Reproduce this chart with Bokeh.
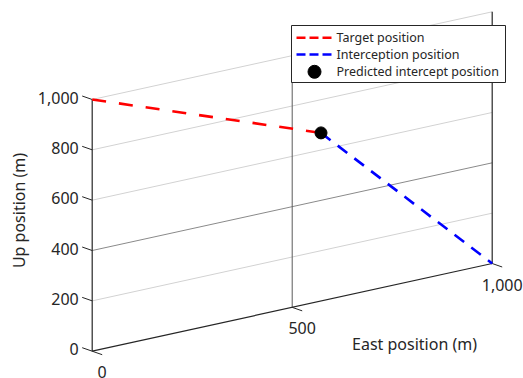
import math
from bokeh.plotting import figure
from bokeh.models import Range1d
from bokeh.core.properties import value
from bokeh.embed import file_html
from bokeh.resources import INLINE

# ---- data ----
east_ticks = [0, 500, 1000]
east_labels = ["0", "500", "1,000"]
up_ticks = [0, 200, 400, 600, 800, 1000]
up_labels = ["0", "200", "400", "600", "800", "1,000"]

target_east = [0, 572]
target_up = [1000, 668]
interceptor_east = [572, 1000]
interceptor_up = [668, 0]
predicted_east = [572]
predicted_up = [668]

legend_labels = ["Target position", "Interception position", "Predicted intercept position"]

# ---- oblique projection (fixed camera) ----
W, H = 523, 378
MARGIN = 0
X0, Y0 = 91.7, 350.7        # screen position of origin
PX_E = 0.4                  # px per metre east (horizontal)
PX_U = 0.2517               # px per metre up
DROP_E = 0.0877             # screen rise per metre east
K = DROP_E / PX_U

def proj(e, u):
    return [ei for ei in e], [ui + K * ei for ei, ui in zip(e, u)]

def sx2d(sx):
    return (sx - X0) / PX_E

def sy2d(sy):
    return (Y0 - sy) / PX_U

x_start, x_end = sx2d(MARGIN), sx2d(MARGIN + W)
y_start, y_end = sy2d(MARGIN + H), sy2d(MARGIN)

p = figure(width=W, height=H, x_range=Range1d(x_start, x_end), y_range=Range1d(y_start, y_end),
           output_backend="svg", toolbar_location=None, min_border=0,
           x_axis_type=None, y_axis_type=None)
p.outline_line_color = None
p.background_fill_color = "white"
p.border_fill_color = "white"

AX = "#262626"
FONT = value("Noto Sans")

# grid lines (up levels)
for u in up_ticks[1:]:
    gx, gy = proj([0, 1000], [u, u])
    col = "#8a8a8a" if u == 400 else "#d2d2d2"
    p.line(gx, gy, line_color=col, line_width=1)

# vertical grid at east 500
gx, gy = proj([500, 500], [0, 1000])
p.line(gx, gy, line_color="#5a5a5a", line_width=1)

# axis lines
for e0, u0, e1, u1 in [(0, 0, 0, 1000), (0, 0, 1000, 0), (1000, 0, 1000, 1000)]:
    ax_, ay_ = proj([e0, e1], [u0, u1])
    p.line(ax_, ay_, line_color=AX, line_width=1.2)

# ticks (pixel offsets converted to data units)
TDX, TDY = 10.0, 3.5
ux, uy = proj([0] * len(up_ticks), up_ticks)
p.segment(x0=ux, y0=uy, x1=[x - TDX / PX_E for x in ux], y1=[y + TDY / PX_U for y in uy],
          line_color=AX, line_width=1)
ex, ey = proj(east_ticks, [0] * len(east_ticks))
p.segment(x0=ex, y0=ey, x1=[x + TDX / PX_E for x in ex], y1=[y - TDY / PX_U for y in ey],
          line_color=AX, line_width=1)

# tick labels
p.text(x=ux, y=uy, text=up_labels, x_offset=-13.5, y_offset=-2, text_align="right",
       text_baseline="middle", text_font=FONT, text_font_size="16px", text_color=AX)
p.text(x=ex, y=ey, text=east_labels, x_offset=10, y_offset=21, text_align="center",
       text_baseline="middle", text_font=FONT, text_font_size="16px", text_color=AX)

# axis titles
p.text(x=[sx2d(414)], y=[sy2d(343)], text=["East position (m)"], text_align="center",
       text_baseline="middle", text_font=FONT, text_font_size="16px", text_color=AX)
p.text(x=[sx2d(18)], y=[sy2d(210)], text=["Up position (m)"], angle=math.pi / 2,
       text_align="center", text_baseline="middle", text_font=FONT,
       text_font_size="16px", text_color=AX)

# data series
tx, ty = proj(target_east, target_up)
p.line(tx, ty, line_color="red", line_width=2.6, line_dash="14 13")
ix, iy = proj(interceptor_east, interceptor_up)
p.line(ix, iy, line_color="blue", line_width=2.6, line_dash="12 9")
px_, py_ = proj(predicted_east, predicted_up)
p.scatter(px_, py_, size=12, marker="circle", fill_color="black", line_color="black")

# legend (drawn in screen layout)
p.quad(left=[sx2d(291)], right=[sx2d(505)], top=[sy2d(25)], bottom=[sy2d(82)],
       fill_color="white", line_color=AX, line_width=1)
rows = [37.3, 54.0, 71.3]
p.line([sx2d(296), sx2d(332)], [sy2d(rows[0])] * 2, line_color="red", line_width=2.6, line_dash="9 4")
p.line([sx2d(296), sx2d(332)], [sy2d(rows[1])] * 2, line_color="blue", line_width=2.6, line_dash="9 4")
p.scatter([sx2d(314)], [sy2d(rows[2])], size=13, marker="circle", fill_color="black", line_color="black")
p.text(x=[sx2d(336)] * 3, y=[sy2d(r) for r in rows], text=legend_labels, text_align="left",
       text_baseline="middle", text_font=FONT, text_font_size="12.5px", text_color=AX)

open("out.html", "w").write(file_html(p, INLINE))
